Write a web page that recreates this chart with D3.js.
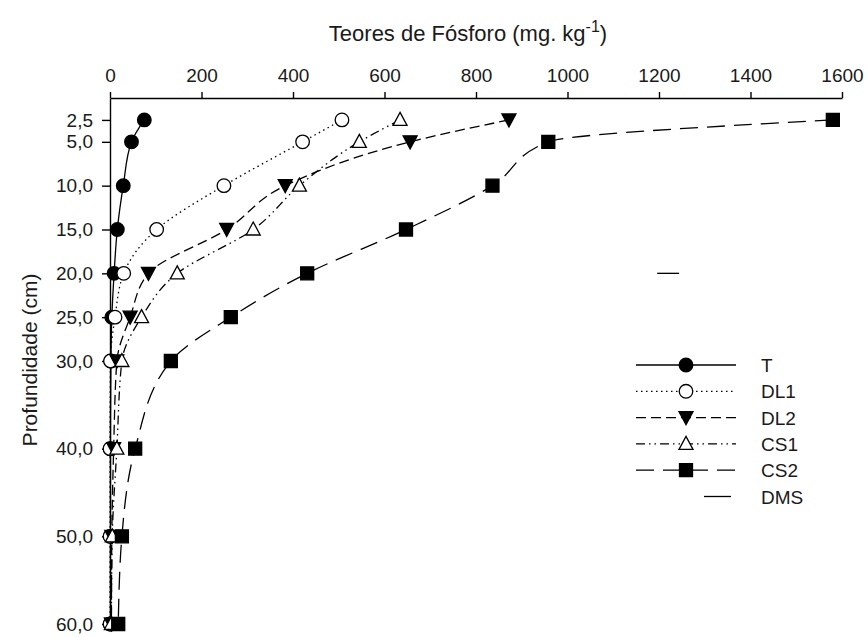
<!DOCTYPE html>
<html>
<head>
<meta charset="utf-8">
<script src="https://cdn.jsdelivr.net/npm/d3@7"></script>
<style>
  body { margin: 0; background: #fff; }
  svg { font-family: "Liberation Sans", Arial, sans-serif; }
</style>
</head>
<body>
<svg id="chart" width="868" height="637"></svg>
<script>
// profundidades (cm) e teores de fósforo (mg kg-1)
const depths = [2.5, 5, 10, 15, 20, 25, 30, 40, 50, 60];
const depthLabels = ['2,5', '5,0', '10,0', '15,0', '20,0', '25,0', '30,0', '40,0', '50,0', '60,0'];
const xTicks = [0, 200, 400, 600, 800, 1000, 1200, 1400, 1600];

const tValues   = [75, 47, 29, 16, 9, 4, 2, 1, 1, 1];
const dl1Values = [507, 421, 249, 102, 30, 11, 1, 0, 0, 0];
const dl2Values = [872, 656, 383, 255, 84, 44, 15, 8, 4, 3];
const cs1Values = [634, 545, 414, 313, 147, 69, 26, 15, 5, 3];
const cs2Values = [1580, 958, 836, 647, 431, 264, 133, 55, 26, 18];

const seriesNames = ['T', 'DL1', 'DL2', 'CS1', 'CS2'];
const seriesValues = [tValues, dl1Values, dl2Values, cs1Values, cs2Values];

// barra DMS (diferença mínima significativa)
const dmsStart = 1196, dmsLength = 48, dmsDepth = 20;

// estilos de linha e marcador
const lineStyle = {
  T:   { dash: null,              marker: 'circle',  fill: '#000' },
  DL1: { dash: '1.5,3.5',         marker: 'circle',  fill: '#fff' },
  DL2: { dash: '10,5',            marker: 'triDown', fill: '#000' },
  CS1: { dash: '9,4,1.5,4,1.5,4', marker: 'triUp',   fill: '#fff' },
  CS2: { dash: '18,9',            marker: 'square',  fill: '#000' },
};

const svg = d3.select('#chart');
const x = d3.scaleLinear().domain([0, 1600]).range([110, 842]);
const y = d3.scaleLinear().domain([0, 60]).range([98, 624]);

function markerPath(kind) {
  if (kind === 'circle') return d3.symbol().type(d3.symbolCircle).size(Math.PI * 46)();
  if (kind === 'square') return 'M-6.5,-6.5H6.5V6.5H-6.5Z';
  if (kind === 'triUp') return 'M0,-7.5L7,5.5L-7,5.5Z';
  return 'M0,7L7,-6L-7,-6Z';
}

// eixos
const xAxis = svg.append('g').attr('transform', `translate(0,${y(0)})`)
  .call(d3.axisTop(x).tickValues(xTicks).tickFormat(d3.format('d'))
    .tickSize(6).tickPadding(10).tickSizeOuter(0));
const yAxis = svg.append('g').attr('transform', `translate(${x(0)},0)`)
  .call(d3.axisLeft(y).tickValues(depths).tickFormat((d, i) => depthLabels[i])
    .tickSize(8).tickPadding(9).tickSizeOuter(0));
[xAxis, yAxis].forEach((g) => {
  g.attr('font-size', 19).attr('font-family', '"Liberation Sans", Arial, sans-serif');
  g.selectAll('path, line').attr('stroke', '#000').attr('stroke-width', 1.4);
  g.selectAll('text').attr('fill', '#1a1a1a');
});

// título e rótulo do eixo y
const title = svg.append('text').attr('x', 468).attr('y', 41).attr('text-anchor', 'middle')
  .attr('font-size', 22).attr('fill', '#1a1a1a');
title.append('tspan').text('Teores de Fósforo (mg. kg');
title.append('tspan').attr('dy', -9).attr('font-size', 16).text('-1');
title.append('tspan').attr('dy', 9).text(')');

svg.append('text').attr('transform', 'translate(37,360) rotate(-90)').attr('text-anchor', 'middle')
  .attr('font-size', 21).attr('fill', '#1a1a1a').text('Profundidade (cm)');

// curvas
const line = d3.line().x((d) => x(d.v)).y((d) => y(d.d)).curve(d3.curveMonotoneY);
seriesNames.forEach((name, si) => {
  const st = lineStyle[name];
  const pts = depths.map((d, i) => ({ d, v: seriesValues[si][i] }));
  svg.append('path').datum(pts).attr('d', line).attr('fill', 'none')
    .attr('stroke', '#000').attr('stroke-width', 1.3)
    .attr('stroke-dasharray', st.dash);
  svg.append('g').selectAll('path').data(pts).enter().append('path')
    .attr('transform', (p) => `translate(${x(p.v)},${y(p.d)})`)
    .attr('d', markerPath(st.marker))
    .attr('fill', st.fill).attr('stroke', '#000').attr('stroke-width', 1.3);
});

// DMS no gráfico
svg.append('line')
  .attr('x1', x(dmsStart)).attr('x2', x(dmsStart + dmsLength))
  .attr('y1', y(dmsDepth)).attr('y2', y(dmsDepth))
  .attr('stroke', '#000').attr('stroke-width', 1.3);

// legenda
const legend = svg.append('g').attr('transform', 'translate(636,365)');
const legendRows = seriesNames.concat(['DMS']);
legendRows.forEach((name, i) => {
  const row = legend.append('g').attr('transform', `translate(0,${i * 26.3})`);
  const st = lineStyle[name];
  if (st) {
    row.append('line').attr('x1', 0).attr('x2', 100).attr('y1', 0).attr('y2', 0)
      .attr('stroke', '#000').attr('stroke-width', 1.3).attr('stroke-dasharray', st.dash);
    row.append('path').attr('transform', 'translate(50,0)').attr('d', markerPath(st.marker))
      .attr('fill', st.fill).attr('stroke', '#000').attr('stroke-width', 1.3);
  } else {
    row.append('line').attr('x1', 68).attr('x2', 95).attr('y1', 0).attr('y2', 0)
      .attr('stroke', '#000').attr('stroke-width', 1.3);
  }
  row.append('text').attr('x', 125).attr('y', 7).attr('font-size', 19)
    .attr('fill', '#1a1a1a').text(name);
});
</script>
</body>
</html>
